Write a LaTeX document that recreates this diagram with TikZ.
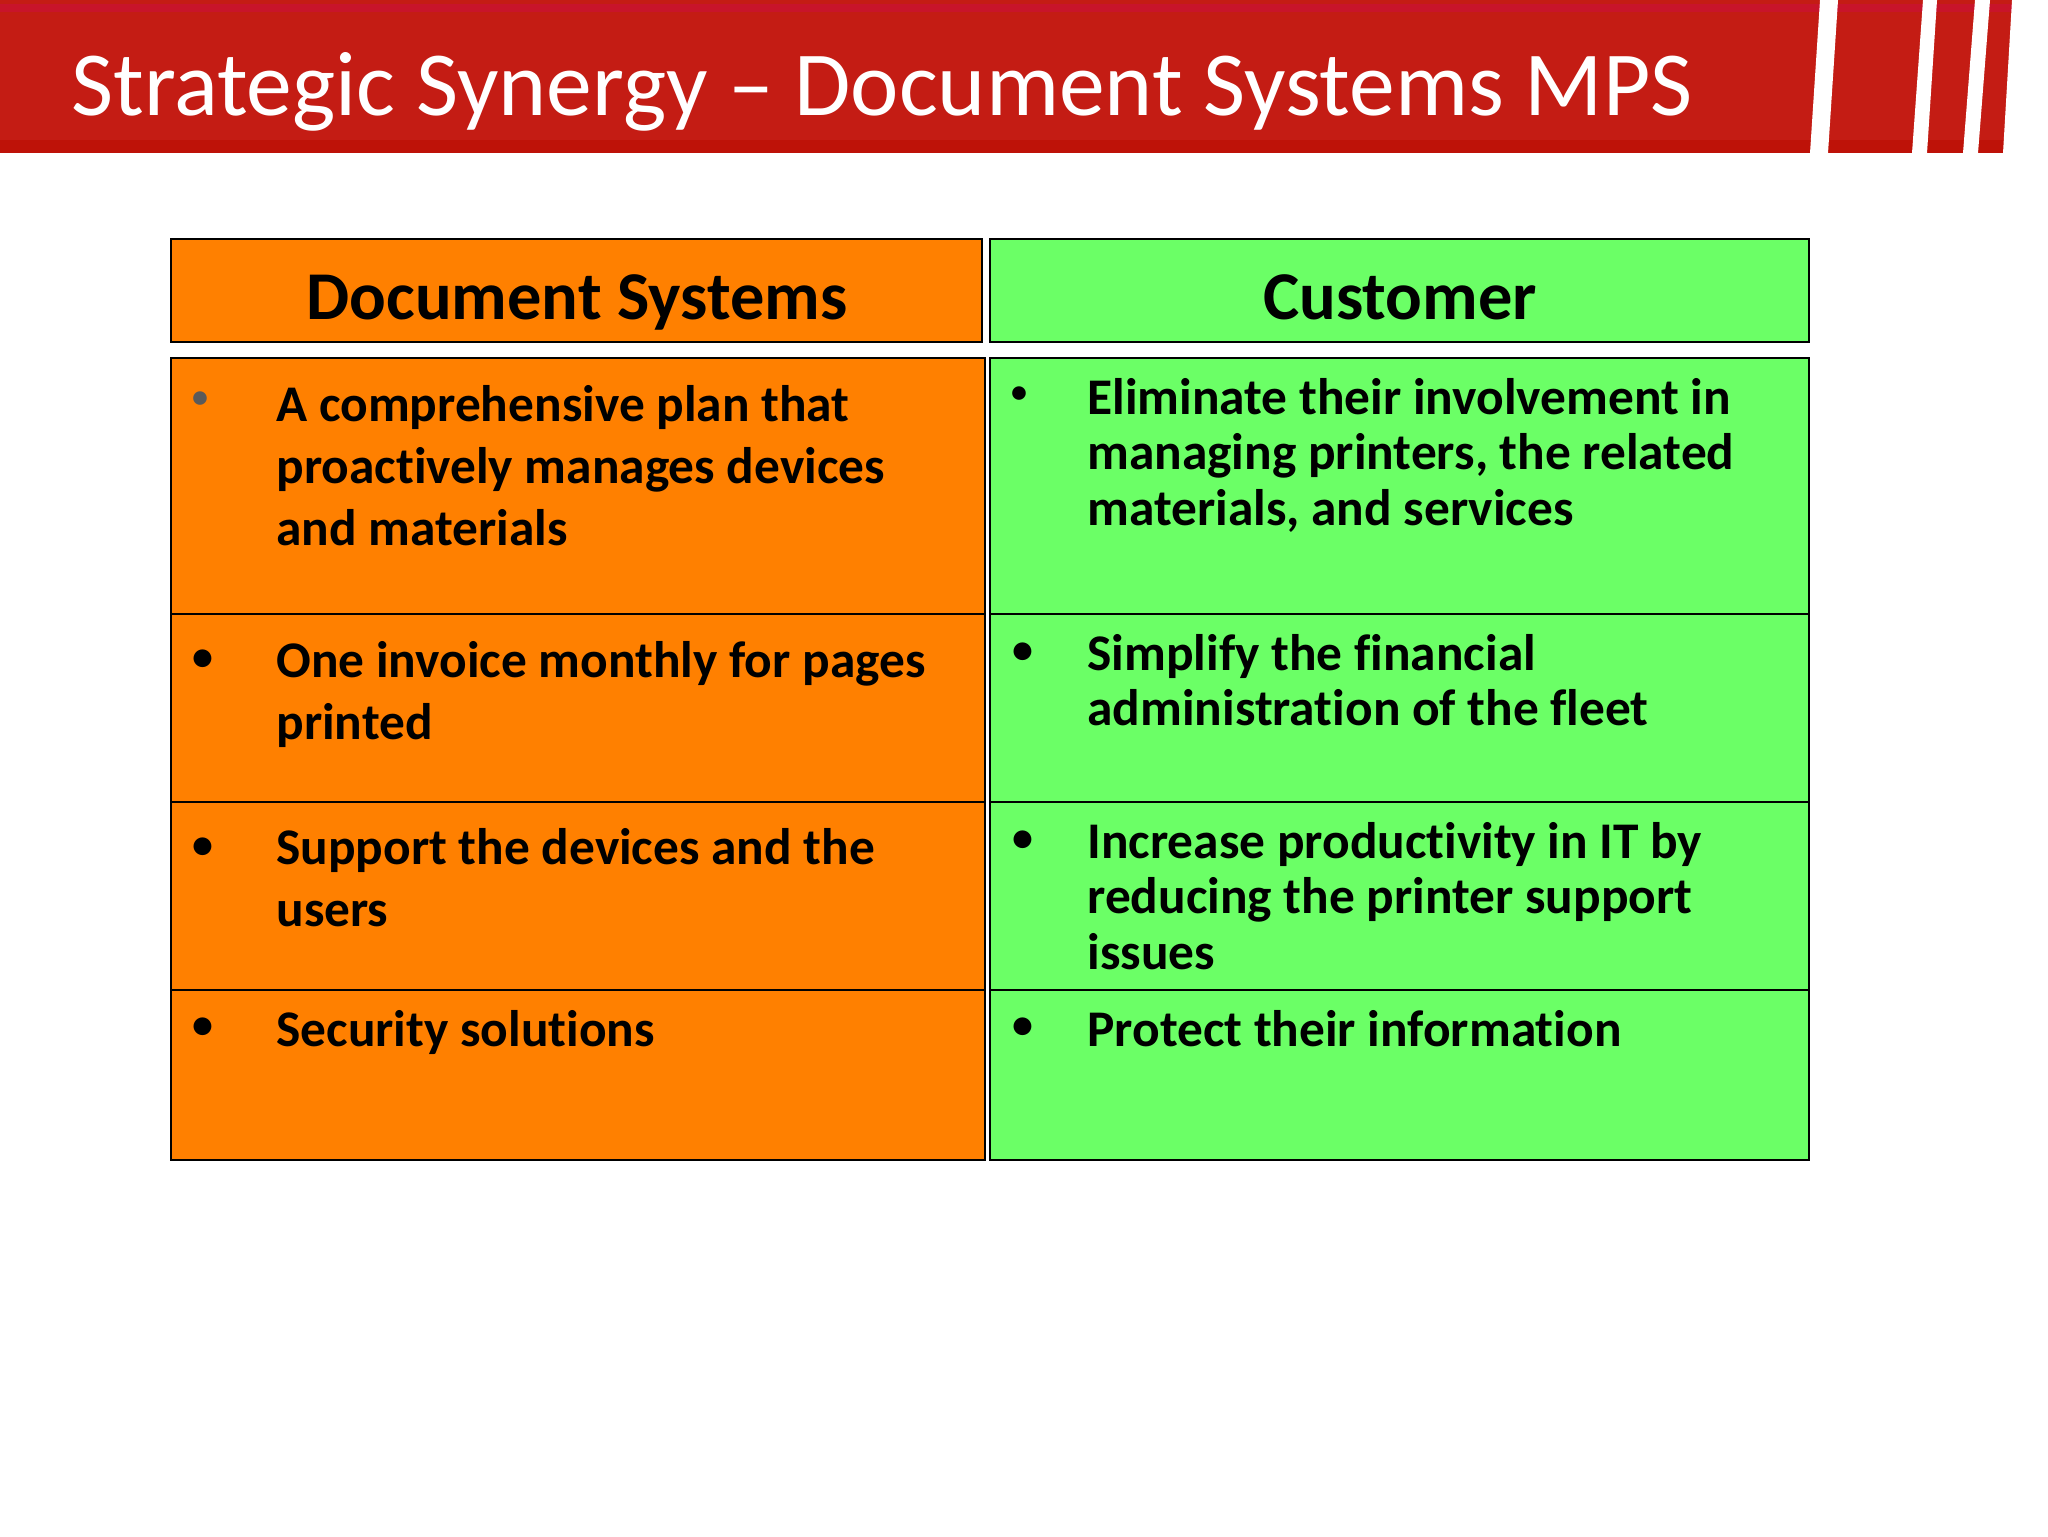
\documentclass[tikz,border=0pt]{standalone}
\usepackage{fontspec}
\setmainfont[Ligatures=CommonOff]{Carlito}
\definecolor{bannerred}{HTML}{C41C14}
\definecolor{bannertop}{HTML}{C8142A}
\definecolor{bannerlow}{HTML}{BE1208}
\definecolor{orangecell}{HTML}{FF8000}
\definecolor{greencell}{HTML}{6BFF66}
\definecolor{bulletgray}{HTML}{5A5A5A}
\tikzset{
  cell/.style={draw=black,line width=1.2pt,inner sep=0pt,outer sep=0pt,anchor=north west},
  heading/.style={font=\fontsize{34.2}{40}\bfseries\selectfont,inner sep=0pt,anchor=base},
  item/.style={font=\fontsize{25.7}{31}\bfseries\selectfont,inner sep=0pt,anchor=north west,align=left,execute at begin node=\rule{0pt}{20pt}},
  itemr/.style={font=\fontsize{25.7}{27.7}\bfseries\selectfont,inner sep=0pt,anchor=north west,align=left,execute at begin node=\rule{0pt}{20pt}},
  dotmark/.style={font=\fontsize{21}{23}\bfseries\selectfont,inner sep=0pt},
  dotsmall/.style={font=\fontsize{16}{18}\bfseries\selectfont,inner sep=0pt},
}
\newcommand{\cellbox}[6]{% name, fill, x, y, width, height
  \node[cell,fill=#2,minimum width=#5*0.5pt,minimum height=#6*0.5pt] (#1) at (#3,#4) {};}
\begin{document}
\begin{tikzpicture}[x=0.5pt,y=-0.5pt]
\useasboundingbox (0,0) rectangle (2048,1536);
% banner
\fill[bannerred] (0,0) rectangle (2012,153);
\fill[bannertop] (0,4) rectangle (2012,12);
\fill[bannerlow] (0,140) rectangle (2012,153);
\fill[white] (1820,0) -- (1838,0) -- (1828,153) -- (1810,153) -- cycle;
\fill[white] (1923,0) -- (1937,0) -- (1927,153) -- (1912,153) -- cycle;
\fill[white] (1975,0) -- (1990,0) -- (1978,153) -- (1963,153) -- cycle;
\fill[white] (2012,0) -- (2048,0) -- (2048,153) -- (2003,153) -- cycle;
\node[font=\fontsize{45.8}{50}\selectfont,text=white,inner sep=0pt,anchor=base west] (title) at (71,115) {Strategic Synergy – Document Systems MPS};
% headers
\cellbox{headl}{orangecell}{171}{239}{811}{103}
\cellbox{headr}{greencell}{990}{239}{819}{103}
\node[heading] (headltext) at (577,319) {Document Systems};
\node[heading] (headrtext) at (1400,319) {Customer};
% left column
\cellbox{l1}{orangecell}{171}{358}{814}{256}
\cellbox{l2}{orangecell}{171}{614}{814}{188}
\cellbox{l3}{orangecell}{171}{802}{814}{188}
\cellbox{l4}{orangecell}{171}{990}{814}{170}
% right column
\cellbox{r1}{greencell}{990}{358}{819}{256}
\cellbox{r2}{greencell}{990}{614}{819}{188}
\cellbox{r3}{greencell}{990}{802}{819}{188}
\cellbox{r4}{greencell}{990}{990}{819}{170}
% left texts
\node[item] (lt1) at (276,385) {A comprehensive plan that\\proactively manages devices\\and materials};
\node[item] (lt2) at (276,641) {One invoice monthly for pages\\printed};
\node[item] (lt3) at (276,828) {Support the devices and the\\users};
\node[item] (lt4) at (276,1006) {Security solutions};
% right texts
\node[itemr] (rt1) at (1087,378) {Eliminate their involvement in\\managing printers, the related\\materials, and services};
\node[itemr] (rt2) at (1087,634) {Simplify the financial\\administration of the fleet};
\node[itemr] (rt3) at (1087,822) {Increase productivity in IT by\\reducing the printer support\\issues};
\node[itemr] (rt4) at (1087,1006) {Protect their information};
% bullets
\node[dotsmall,text=bulletgray] (bl1) at (200,400) {•};
\node[dotmark] (bl2) at (203,660) {•};
\node[dotmark] (bl3) at (203,848) {•};
\node[dotmark] (bl4) at (203,1028) {•};
\node[dotsmall] (br1) at (1019,395) {•};
\node[dotmark] (br2) at (1023,653) {•};
\node[dotmark] (br3) at (1023,841) {•};
\node[dotmark] (br4) at (1023,1028) {•};
\end{tikzpicture}
\end{document}
